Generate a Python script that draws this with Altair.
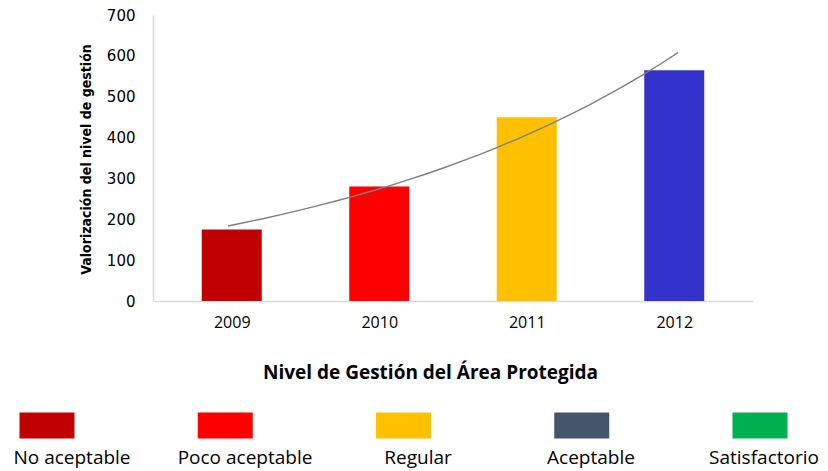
import altair as alt
import pandas as pd

years = [2009, 2010, 2011, 2012]
values = [175, 280, 450, 565]
bar_colors = ["#C00000", "#FF0000", "#FFC000", "#3333CC"]
y_ticks = [0, 100, 200, 300, 400, 500, 600, 700]
legend_labels = ["No aceptable", "Poco aceptable", "Regular", "Aceptable", "Satisfactorio"]
legend_colors = ["#C00000", "#FF0000", "#FFC000", "#44546A", "#00B050"]

bars_df = pd.DataFrame({"year": years, "value": values, "color": bar_colors})
legend_df = pd.DataFrame({"label": legend_labels, "color": legend_colors})

x_scale = alt.Scale(domain=[2008.5, 2012.5], nice=False, zero=False)
y_scale = alt.Scale(domain=[0, 700], nice=False)

x_axis = alt.Axis(
    values=years, format="d", title="Nivel de Gestión del Área Protegida",
    grid=False, ticks=False, tickSize=0, domainColor="#d9d9d9", domainWidth=1.5,
    labelFont="Open Sans", labelFontSize=16, labelColor="#000", labelPadding=13,
    titleFont="Open Sans", titleFontSize=19, titleFontWeight="bold", titleColor="#000",
    titleX=277, titleY=71, titleBaseline="middle",
)
y_axis = alt.Axis(
    values=y_ticks, title="Valorización del nivel de gestión",
    grid=False, ticks=False, tickSize=0, domainColor="#d9d9d9", domainWidth=1.5,
    labelFont="DejaVu Sans", labelFontSize=15, labelColor="#000", labelPadding=18,
    titleFont="Liberation Sans Narrow, DejaVu Sans Condensed", titleFontSize=14,
    titleFontWeight="bold", titleColor="#000",
    titleX=-60, titleY=144, titleBaseline="bottom",
)

bars = alt.Chart(bars_df).mark_bar(size=60).encode(
    x=alt.X("year:Q", scale=x_scale, axis=x_axis),
    y=alt.Y("value:Q", scale=y_scale, axis=y_axis),
    color=alt.Color("color:N", scale=None),
)

# exponential trend line (least squares on log values, as in a spreadsheet trendline)
trend = alt.Chart(bars_df).transform_calculate(
    lv="log(datum.value)"
).transform_regression(
    "year", "lv", method="poly", order=1, extent=[2009, 2012]
).transform_calculate(
    value="exp(datum.lv)"
).mark_line(color="#7f7f7f", strokeWidth=1.4).encode(
    x=alt.X("year:Q", scale=x_scale, axis=None),
    y=alt.Y("value:Q", scale=y_scale),
)

sq_x = alt.X("label:N", sort=legend_labels,
             scale=alt.Scale(type="point", range=[-106, 607], padding=0), axis=None)
txt_x = alt.X("label:N", sort=legend_labels,
              scale=alt.Scale(type="point", range=[-81, 611], padding=0), axis=None)

leg_sq = alt.Chart(legend_df).mark_tick(
    orient="horizontal", size=55, thickness=26, opacity=1
).encode(
    x=sq_x,
    y=alt.value(410.5),
    color=alt.Color("color:N", scale=None),
)

leg_txt = alt.Chart(legend_df).mark_text(
    font="Open Sans", fontSize=19, baseline="middle", align="center", color="#000"
).encode(
    x=txt_x,
    y=alt.value(443),
    text="label:N",
)

chart = alt.layer(bars, trend, leg_sq, leg_txt).resolve_scale(
    x="independent"
).properties(
    width=600, height=286,
    autosize=alt.AutoSizeParams(type="none"),
    padding={"left": 145, "top": 7, "right": 67, "bottom": 170},
    background="white",
).configure_view(stroke=None)

chart.save("out.html", embed_options={"renderer": "svg", "actions": False})
